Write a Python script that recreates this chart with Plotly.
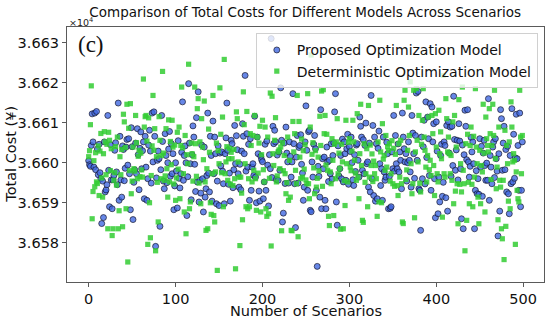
import plotly.graph_objects as go

# Total cost in yuan = 36600 + value
base_cost = 36600.0
scale_exp = 1e4

proposed_minus_base = [
    0.5, -0.5, -0.9, 4.3, 12.2, 5.2, -1.1, 12.4, -1.75, 12.8,
    3.4, -3.0, 4.6, -2.5, -4.0, -15.2, -4.6, -13.7, 5.2, -7.3,
    -6.8, -5.5, 11.8, -1.9, -11.0, 4.5, -4.3, -11.5, -4.3, -3.2,
    3.1, 5.0, -2.3, -5.5, 14.9, -9.4, 6.6, -4.3, -8.6, 4.2,
    3.3, -4.5, -1.4, 3.9, 5.8, -0.6, 6.0, -2.75, -11.75, 8.75,
    4.0, -14.2, -4.9, -1.8, 4.9, -2.75, 8.5, 2.0, -6.75, 3.6,
    7.7, -1.5, 3.0, 5.2, -9.0, 6.6, -1.1, -9.4, -4.0, 4.4,
    8.1, 2.9, -5.1, 12.4, 0.2, 12.7, 6.6, -20.9, -3.8, 0.6,
    2.9, 1.0, -15.9, -1.75, 11.8, 5.3, -4.6, -6.5, 7.25, 1.8,
    -5.0, 0.0, 3.4, 7.8, -3.4, 4.8, -2.75, 2.25, -11.75, -5.8,
    0.0, -2.1, -11.3, 5.5, -3.9, -6.3, -2.75, 2.6, 15.2, -4.4,
    1.8, 4.2, 0.0, -13.2, -3.5, 19.75, 4.9, -0.25, -9.25, 2.0,
    9.2, 6.4, -0.4, -7.2, 11.25, -4.8, 17.7, -9.8, -4.4, -7.6,
    4.4, -4.0, -12.3, 3.9, -8.6, -6.5, -3.2, 12.4, -2.6, -7.3,
    6.6, 1.8, -9.6, 10.4, -2.75, 6.4, 2.25, -10.25, -4.6, 4.2,
    -10.7, 2.4, -0.8, 2.7, -2.1, -5.25, -10.25, 2.25, 6.2, 14.9,
    3.1, -5.4, -2.6, -9.6, 5.6, 4.75, -6.25, -1.75, 9.3, -0.25,
    6.75, 3.25, -2.75, -6.1, -0.4, -6.75, 2.9, 9.75, 6.6, 2.25,
    21.8, -2.1, 7.25, -1.1, 4.6, -9.4, 6.0, -6.9, -1.1, -0.25,
    -3.2, 11.6, -3.6, -10.0, 6.4, 2.25, -7.1, -9.6, 1.6, 0.75,
    0.25, -9.0, -4.8, 4.6, -6.9, 5.4, -0.6, -10.8, 2.0, -1.5,
    31.0, -3.7, 9.1, 4.75, 8.1, 5.2, -4.2, 1.9, -4.4, 2.7,
    -1.9, 18.7, 5.6, -14.8, -12.6, 4.9, -5.2, 8.9, 2.4, 0.2,
    -5.1, 5.2, 1.6, -3.6, 0.2, 17.25, 4.75, -5.25, -16.2, 1.4,
    6.8, -5.1, 3.8, 4.3, 7.0, -0.4, -2.6, -9.4, -6.1, 5.2,
    14.2, 3.1, -6.9, 7.75, 8.1, -11.9, -12.25, 0.2, -3.6, 4.6,
    6.8, 3.5, -6.9, -25.9, -0.9, -3.4, -8.6, 13.25, -11.5, 1.0,
    -1.5, 1.4, -9.4, -11.5, 3.9, 0.2, -4.7, 0.6, -2.75, 4.75,
    -4.1, 1.8, 5.0, 12.7, 17.25, -9.8, -15.6, 4.2, -3.3, -1.5,
    1.8, -4.0, 5.9, -4.8, 5.2, 2.25, -4.4, 3.5, 7.1, -5.4,
    4.0, 2.8, 6.4, 0.0, -4.25, -5.7, 2.0, -2.2, 4.4, 4.75,
    0.6, -3.6, 11.4, 9.1, 6.4, -1.9, 5.75, -2.75, 4.3, 9.9,
    -0.25, 0.2, -6.1, 4.9, -7.3, 16.8, -4.0, 9.3, -8.2, 6.4,
    -9.6, 4.75, -9.0, 3.6, 7.9, -0.25, -5.7, -1.5, -9.4, 6.4,
    -2.3, -4.4, -3.6, 5.1, 2.25, -11.5, -3.4, -11.4, -11.0, 2.7,
    -1.5, 11.8, -2.1, 6.8, -0.25, -1.5, 4.7, -2.3, 2.7, 0.6,
    -6.5, 12.4, 6.4, 3.5, 0.2, 2.25, -4.6, 0.0, 5.2, 0.6,
    -2.3, -6.1, 11.8, 7.4, 2.25, -3.9, 6.8, 17.4, 0.6, 17.8,
    -6.5, -6.9, -16.9, 6.4, -4.0, 4.0, 10.6, -5.3, 15.2, 1.3,
    11.4, 6.0, -3.2, 14.75, -6.9, 13.9, 5.2, 9.75, -4.0, -13.75,
    10.2, 2.9, -12.75, -3.6, -9.8, 1.8, 4.6, -8.4, -4.9, 5.2,
    4.3, -8.75, 9.3, -12.1, 10.2, 2.4, 8.9, -3.4, 9.1, -0.7,
    16.6, 5.8, -1.9, 3.2, 5.6, -4.3, 9.75, 5.4, -1.5, -14.0,
    4.4, -16.5, 2.0, 13.1, 9.1, 0.75, 13.25, 0.2, -3.6, -0.9,
    6.3, 2.7, 5.2, -0.25, -16.5, -6.9, -2.0, -7.75, -4.0, -7.9,
    6.0, -1.1, 4.1, -8.4, 2.4, 5.6, -0.7, -4.4, -0.1, -4.4,
    16.0, -9.4, 1.8, -1.1, -5.25, 3.9, 5.2, -3.7, 6.0, 1.0,
    -2.1, -18.3, 2.25, -12.1, 13.25, 11.0, -1.9, 4.9, 9.1, -1.75,
    3.3, -7.3, 4.1, -7.75, -12.75, 1.8, -5.25, 13.5, -4.8, 7.1,
    -3.9, 1.2, 12.1, 1.0, 4.3, -6.9, 12.4, -11.0, -6.9, 5.2,
]

deterministic_minus_base = [
    1.5, 3.0, 9.5, 19.2, -14.0, -7.2, 0.5, -6.0, 2.5, -4.8,
    -5.2, 4.2, -8.2, 2.9, 7.3, -3.8, -8.6, 2.25, 7.75, 5.2,
    -3.0, 4.6, -16.5, 7.6, 5.6, -2.0, 3.5, -18.2, -16.5, -4.4,
    -2.5, 4.0, -5.6, 6.4, -16.5, -12.0, 1.5, -3.0, 3.3, -16.0,
    12.1, 10.2, 3.8, -11.5, 14.6, -24.8, 8.6, -2.0, 14.75, -7.75,
    -4.6, 3.9, -1.5, -2.1, 11.8, 5.0, -4.0, 1.6, 3.1, -3.5,
    2.4, -1.8, -3.6, 20.9, 8.9, 11.5, 11.8, 5.4, -20.4, 11.2,
    -10.0, -18.75, -3.2, 4.2, 16.8, 3.1, 8.5, -22.0, 1.5, -4.9,
    -14.8, 11.5, 5.6, -4.0, 1.8, 22.8, 2.4, -4.4, -3.3, 8.5,
    -1.5, -8.6, 10.7, -4.8, 5.3, -0.5, 10.6, 3.9, -5.3, 4.4,
    -9.4, -3.8, 7.6, -1.6, 8.9, -9.0, 4.3, 18.9, 3.7, -2.75,
    -12.3, 6.8, -17.75, 2.0, -0.25, 24.6, -11.5, -9.8, 4.9, 2.25,
    -4.6, 1.5, 18.9, 4.75, -3.4, 13.5, 16.0, -5.1, 5.2, -10.25,
    11.0, 3.9, 0.75, 15.4, -4.8, -16.9, -1.5, -16.5, 8.4, 2.6,
    -10.0, -12.9, -2.75, 16.8, -13.2, -14.8, -2.3, 4.9, -26.9, 3.0,
    -0.25, 18.7, 7.1, -2.5, 11.4, -11.0, 25.8, -2.75, 0.2, 4.0,
    -4.4, 1.0, 3.6, -5.3, 2.6, 1.0, -5.7, 3.3, -4.0, -26.5,
    12.7, 11.0, 0.2, -3.6, -20.7, -3.6, -7.6, -14.25, 17.7, 9.5,
    -0.25, -11.0, 12.8, -11.5, -4.0, -11.0, 7.25, 4.3, -4.8, 6.8,
    -1.9, 11.8, -4.0, -11.9, 6.4, -2.6, 4.9, 9.1, -12.3, 2.0,
    10.6, -1.75, -4.8, 8.9, -11.5, -13.4, 6.4, -12.75, -3.9, 17.4,
    -20.8, 16.6, 2.25, -0.7, 5.6, 11.25, -4.8, -3.3, 2.7, 3.2,
    -1.5, 3.9, -17.0, 5.0, -2.0, 1.8, -2.75, -7.75, -5.0, 6.4,
    -9.4, 0.6, -8.6, -16.9, -17.0, 10.3, 2.7, 7.25, -1.9, -5.25,
    16.8, -18.5, 10.3, 1.4, -4.0, 5.9, -3.6, 3.0, -1.6, 4.5,
    -4.3, -5.25, 17.25, -5.25, -9.0, 8.9, 26.9, 2.1, 5.0, -1.3,
    -7.75, 3.0, -6.1, -3.9, 1.4, -2.0, 11.6, 4.3, 17.9, -5.9,
    18.25, 7.25, 11.8, -0.6, 7.1, -1.9, -13.4, -15.7, -2.3, -5.25,
    6.0, 0.6, -13.2, 4.6, -4.0, 5.2, 11.0, -2.75, 2.4, -1.4,
    -16.6, 4.6, 0.2, -16.5, -4.5, -10.7, 10.6, -0.25, -4.8, 5.1,
    6.0, -1.1, -2.0, 2.9, 10.6, 5.2, 0.6, -2.6, -4.4, 12.25,
    -3.6, -9.0, 2.25, 14.6, -0.7, -14.4, -14.9, 4.75, -4.9, -2.75,
    3.5, -11.0, 14.3, -3.6, 4.4, -0.7, 2.2, -4.7, 0.4, -2.75,
    -0.7, -4.0, -13.4, 5.2, -9.8, 15.6, 2.7, -10.0, 9.75, 0.9,
    1.8, -1.9, 6.8, -1.1, 4.0, 3.0, 4.75, -4.6, -2.75, 5.5,
    -5.25, 3.6, -5.9, 2.1, 14.3, -5.7, -8.2, 4.75, -3.6, 5.6,
    -5.25, -14.8, -15.2, 15.6, 18.1, -4.2, -1.8, 3.1, 13.9, 6.8,
    20.2, -0.25, -7.75, -5.25, 18.1, -13.75, 2.7, 18.5, 5.6, 0.2,
    11.8, -5.1, -7.3, 4.6, 10.6, 18.5, 6.4, 3.1, -1.1, -4.8,
    1.8, 11.4, -1.75, 0.6, -3.2, 11.8, 7.25, -0.7, -8.2, 12.25,
    3.9, -2.75, -4.8, 13.1, 2.25, 7.7, 1.0, -13.6, 21.8, -2.75,
    -3.6, 16.0, 11.0, 2.7, 6.4, 2.25, -2.75, 1.8, -4.4, 10.2,
    -10.25, 11.8, -7.1, 3.9, -5.25, -15.25, 15.75, -5.4, -0.25, -7.3,
    18.9, -1.9, -5.25, -22.0, 4.75, -14.4, 7.1, -4.9, -10.25, 4.3,
    8.9, -5.4, -11.0, 6.6, -3.6, 18.5, 3.9, -0.25, -8.6, -15.25,
    3.1, -10.25, -0.7, -2.3, 14.6, 2.4, -12.3, 11.4, 6.0, 4.3,
    2.7, 13.5, 7.25, -4.2, 4.3, 14.6, 6.8, 18.1, 1.0, -6.5,
    -1.1, -14.25, 8.9, -4.4, -6.1, -16.5, -19.0, -4.4, -24.2, 8.1,
    -15.9, 4.3, -0.25, -9.6, 5.2, -11.5, 15.2, 8.9, 0.2, 2.25,
    0.6, -20.4, -2.3, -6.9, -9.0, -9.8, 18.1, 6.4, -2.75, 6.8,
]

y_ticks = [3.658, 3.659, 3.660, 3.661, 3.662, 3.663]
x_ticks = [0, 100, 200, 300, 400, 500]

proposed = [(base_cost + v) / scale_exp for v in proposed_minus_base]
deterministic = [(base_cost + v) / scale_exp for v in deterministic_minus_base]
scen_p = list(range(len(proposed)))
scen_d = list(range(len(deterministic)))

FONT = "DejaVu Sans"
AX = "#5a5a5a"
TXT = "#111"

fig = go.Figure()
fig.add_trace(go.Scatter(
    x=scen_p, y=proposed, mode="markers", name="Proposed Optimization Model",
    marker=dict(symbol="circle", size=6, color="rgba(65,105,225,0.8)",
                line=dict(color="rgba(20,20,40,0.85)", width=0.8)),
))
fig.add_trace(go.Scatter(
    x=scen_d, y=deterministic, mode="markers", name="Deterministic Optimization Model",
    marker=dict(symbol="square", size=5.2, color="rgba(50,205,50,0.85)",
                line=dict(width=0)),
))

fig.update_layout(
    width=550, height=320,
    margin=dict(l=67, r=6, t=27, b=38, autoexpand=False),
    paper_bgcolor="white", plot_bgcolor="white",
    font=dict(family=FONT, color="#222", size=14),
    title=dict(text="Comparison of Total Costs for Different Models Across Scenarios",
               x=0.555, xanchor="center", xref="container",
               y=0.9625, yanchor="middle", yref="container", automargin=False,
               font=dict(size=13.5, family=FONT, color=TXT)),
    showlegend=True,
    legend=dict(x=0.987, xanchor="right", y=0.975, yanchor="top",
                bgcolor="rgba(255,255,255,0.8)", bordercolor="#d0d0d0", borderwidth=1,
                font=dict(size=14, family=FONT, color=TXT),
                itemsizing="trace", itemwidth=30, tracegroupgap=0),
    xaxis=dict(range=[-24.95, 523.95], tickvals=x_ticks, ticks="outside", ticklen=4,
               tickcolor=AX, showline=True, linecolor=AX, linewidth=1, mirror=True,
               showgrid=False, zeroline=False, automargin=False,
               tickfont=dict(size=14.5, family=FONT, color=TXT)),
    yaxis=dict(range=[3.65702, 3.66339], tickvals=y_ticks, tickformat=".3f", ticks="outside",
               ticklen=4, tickcolor=AX, showline=True, linecolor=AX, linewidth=1, mirror=True,
               showgrid=False, zeroline=False, automargin=False,
               tickfont=dict(size=14.5, family=FONT, color=TXT)),
    annotations=[
        dict(text="Number of Scenarios", xref="paper", yref="paper", x=0.5, y=-0.113,
             xanchor="center", yanchor="middle", showarrow=False,
             font=dict(size=14.5, family=FONT, color=TXT)),
        dict(text="Total Cost (¥)", xref="paper", yref="paper", x=-0.119, y=0.5,
             xanchor="center", yanchor="middle", textangle=-90, showarrow=False,
             font=dict(size=14.5, family=FONT, color=TXT)),
        dict(text="×10<sup>4</sup>", xref="paper", yref="paper", x=0.0, y=0.99,
             xanchor="left", yanchor="bottom", showarrow=False,
             font=dict(size=9.5, family=FONT, color="#222")),
        dict(text="(c)", xref="paper", yref="paper", x=0.018, y=0.99,
             xanchor="left", yanchor="top", showarrow=False,
             font=dict(size=23, family="Liberation Serif", color=TXT)),
    ],
)

fig.write_html("out.html", config={"displayModeBar": False},
               post_script="document.body.style.margin='0';")
